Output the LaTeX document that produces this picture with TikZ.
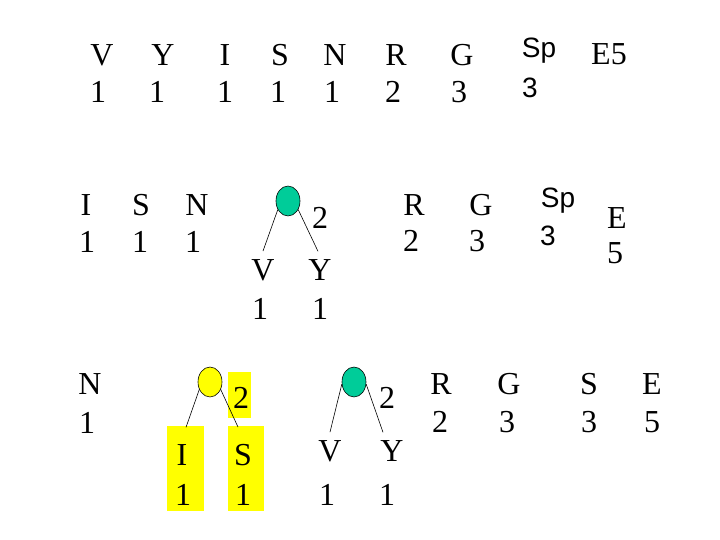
\documentclass[tikz,border=0pt]{standalone}
\usepackage{fontspec}
\setmainfont{Liberation Serif}
\newfontfamily\arialf{Liberation Sans}
\usetikzlibrary{shapes.geometric}
\definecolor{tgreen}{RGB}{0,204,153}
\definecolor{tyellow}{RGB}{255,255,0}
\begin{document}
\begin{tikzpicture}[x=1pt,y=-1pt,
  lbl/.style={inner sep=0pt,font=\fontsize{32}{32}\selectfont},
  slbl/.style={inner sep=0pt,font=\arialf\fontsize{28}{28}\selectfont},
  gnode/.style={ellipse,draw=black,line width=0.6pt,fill=tgreen,minimum width=24pt,minimum height=30pt,inner sep=0pt},
  ynode/.style={ellipse,draw=black,line width=0.6pt,fill=tyellow,minimum width=24pt,minimum height=30pt,inner sep=0pt},
  edge/.style={line width=0.6pt,draw=black},
  hl/.style={fill=tyellow,draw=none}]
\useasboundingbox (0,0) rectangle (720,540);
% Row 1
\node[lbl] (r1v) at (102,55) {V};  \node[lbl] (r1v1) at (98,92) {1};
\node[lbl] (r1y) at (163,55) {Y};  \node[lbl] (r1y1) at (157,92) {1};
\node[lbl] (r1i) at (225,55) {I};  \node[lbl] (r1i1) at (225,92) {1};
\node[lbl] (r1s) at (280,55) {S};  \node[lbl] (r1s1) at (278,92) {1};
\node[lbl] (r1n) at (335,55) {N};  \node[lbl] (r1n1) at (332,92) {1};
\node[lbl] (r1r) at (396,55) {R};  \node[lbl] (r1r1) at (393,92) {2};
\node[lbl] (r1g) at (462,55) {G};  \node[lbl] (r1g1) at (459,92) {3};
\node[slbl] (r1sp) at (539,51) {Sp}; \node[slbl] (r1sp1) at (530,88) {3};
\node[lbl] (r1e) at (609,54) {E5};
% Row 2
\node[lbl] (r2i) at (86,205) {I};  \node[lbl] (r2i1) at (87,242) {1};
\node[lbl] (r2s) at (141,205) {S}; \node[lbl] (r2s1) at (140,242) {1};
\node[lbl] (r2n) at (197,205) {N}; \node[lbl] (r2n1) at (193,242) {1};
\node[gnode] (g1) at (288,201) {};
\node[lbl] (g1w) at (320,218) {2};
\node[lbl] (g1v) at (263,270) {V}; \node[lbl] (g1v1) at (260,309) {1};
\node[lbl] (g1y) at (320,270) {Y}; \node[lbl] (g1y1) at (320,309) {1};
\draw[edge] (g1.220) -- ([yshift=8pt]g1v.north);
\draw[edge] (g1.-40) -- ([yshift=8pt,xshift=-2pt]g1y.north);
\node[lbl] (r2r) at (414,205) {R}; \node[lbl] (r2r1) at (411,241) {2};
\node[lbl] (r2g) at (481,205) {G}; \node[lbl] (r2g1) at (477,241) {3};
\node[slbl] (r2sp) at (558,201) {Sp}; \node[slbl] (r2sp1) at (548,236) {3};
\node[lbl] (r2e) at (617,218) {E}; \node[lbl] (r2e1) at (615,253) {5};
% Row 3
\node[lbl] (r3n) at (90,384) {N};  \node[lbl] (r3n1) at (87,423) {1};
\fill[hl] (228,372) rectangle (251,418);
\fill[hl] (167,426) rectangle (204,511);
\fill[hl] (228,426) rectangle (264,511);
\node[ynode] (y1) at (210,382) {};
\node[lbl] (y1w) at (241,398) {2};
\node[lbl] (y1i) at (182,455) {I}; \node[lbl] (y1i1) at (183,495) {1};
\node[lbl] (y1s) at (243,455) {S}; \node[lbl] (y1s1) at (243,495) {1};
\draw[edge] (y1.215) -- ([yshift=17pt,xshift=4pt]y1i.north);
\draw[edge] (y1.-35) -- ([yshift=17pt,xshift=-5pt]y1s.north);
\node[gnode] (g2) at (354,382) {};
\node[lbl] (g2w) at (387,398) {2};
\node[lbl] (g2v) at (330,451) {V}; \node[lbl] (g2v1) at (327,495) {1};
\node[lbl] (g2y) at (392,451) {Y}; \node[lbl] (g2y1) at (387,495) {1};
\draw[edge] (g2.190) -- ([yshift=8pt]g2v.north);
\draw[edge] (g2.-10) -- ([yshift=8pt,xshift=-9pt]g2y.north);
\node[lbl] (r3r) at (441,384) {R}; \node[lbl] (r3r1) at (440,422) {2};
\node[lbl] (r3g) at (509,384) {G}; \node[lbl] (r3g1) at (507,422) {3};
\node[lbl] (r3s) at (589,384) {S}; \node[lbl] (r3s1) at (589,422) {3};
\node[lbl] (r3e) at (652,384) {E}; \node[lbl] (r3e1) at (652,422) {5};
\end{tikzpicture}
\end{document}
